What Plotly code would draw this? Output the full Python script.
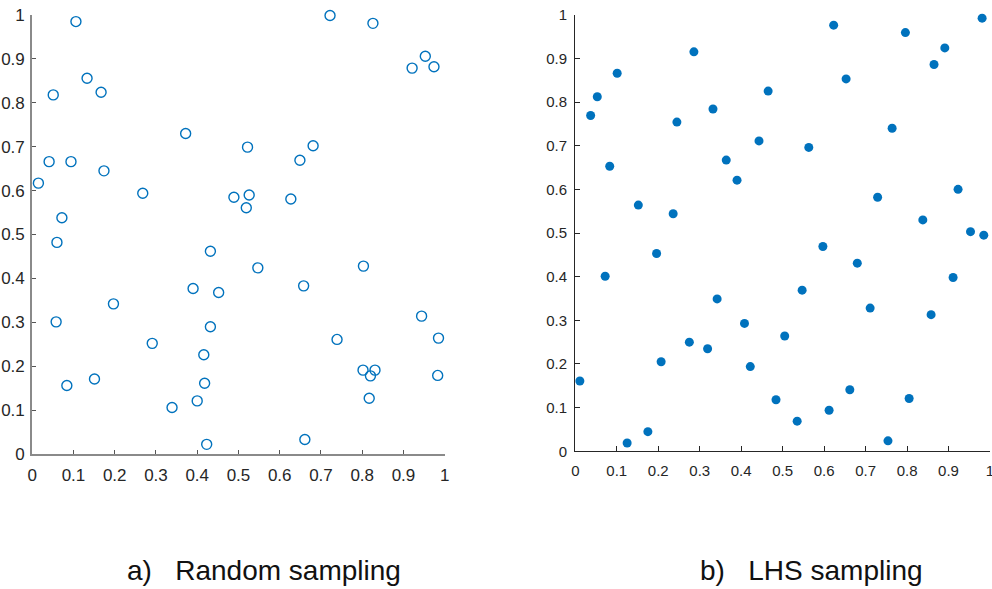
import plotly.graph_objects as go

# ---- data: a) Random sampling ----
rand_x = [0.106, 0.722, 0.826, 0.953, 0.921, 0.974, 0.133, 0.051, 0.167, 0.372,
          0.041, 0.094, 0.015, 0.174, 0.268, 0.072, 0.060, 0.522, 0.681, 0.649,
          0.489, 0.526, 0.519, 0.627, 0.432, 0.390, 0.452, 0.197, 0.058, 0.432,
          0.291, 0.416, 0.084, 0.151, 0.418, 0.400, 0.339, 0.423, 0.547, 0.803,
          0.658, 0.944, 0.985, 0.739, 0.802, 0.831, 0.820, 0.983, 0.817, 0.661]
rand_y = [0.985, 0.999, 0.981, 0.906, 0.879, 0.882, 0.856, 0.818, 0.824, 0.730,
          0.666, 0.666, 0.617, 0.645, 0.594, 0.538, 0.482, 0.699, 0.702, 0.669,
          0.585, 0.590, 0.561, 0.581, 0.462, 0.377, 0.368, 0.342, 0.301, 0.290,
          0.252, 0.226, 0.156, 0.171, 0.161, 0.121, 0.106, 0.022, 0.424, 0.428,
          0.383, 0.314, 0.264, 0.261, 0.191, 0.191, 0.178, 0.179, 0.127, 0.033]

# ---- data: b) LHS sampling ----
lhs_x = [0.037, 0.053, 0.101, 0.083, 0.152, 0.236, 0.245, 0.286, 0.332, 0.364,
         0.390, 0.443, 0.465, 0.623, 0.796, 0.981, 0.891, 0.865, 0.653, 0.764,
         0.563, 0.729, 0.923, 0.838, 0.953, 0.985, 0.597, 0.680, 0.547, 0.711,
         0.911, 0.858, 0.505, 0.484, 0.535, 0.612, 0.662, 0.805, 0.754, 0.011,
         0.072, 0.196, 0.342, 0.408, 0.275, 0.319, 0.207, 0.422, 0.175, 0.125]
lhs_y = [0.769, 0.812, 0.866, 0.653, 0.564, 0.544, 0.754, 0.915, 0.784, 0.667,
         0.621, 0.711, 0.825, 0.976, 0.959, 0.992, 0.924, 0.886, 0.853, 0.740,
         0.696, 0.582, 0.600, 0.530, 0.503, 0.495, 0.469, 0.431, 0.369, 0.328,
         0.398, 0.313, 0.264, 0.118, 0.069, 0.094, 0.141, 0.121, 0.024, 0.161,
         0.401, 0.453, 0.349, 0.293, 0.250, 0.235, 0.205, 0.194, 0.045, 0.019]

tick_vals = [0, 0.1, 0.2, 0.3, 0.4, 0.5, 0.6, 0.7, 0.8, 0.9, 1]
tick_text = ["0", "0.1", "0.2", "0.3", "0.4", "0.5", "0.6", "0.7", "0.8", "0.9", "1"]
captions = ["a)\u00a0\u00a0\u00a0Random sampling", "b)\u00a0\u00a0\u00a0LHS sampling"]

W, H = 992, 589
BLUE = "#0072BD"

fig = go.Figure()
fig.add_trace(go.Scatter(
    x=rand_x, y=rand_y, mode="markers", xaxis="x", yaxis="y",
    marker=dict(symbol="circle-open", size=10, color=BLUE, line=dict(width=1.4, color=BLUE)),
    cliponaxis=False, showlegend=False))
fig.add_trace(go.Scatter(
    x=lhs_x, y=lhs_y, mode="markers", xaxis="x2", yaxis="y2",
    marker=dict(symbol="circle", size=9, color=BLUE, line=dict(width=0)),
    cliponaxis=False, showlegend=False))

def px_x(p):
    return p / W

def px_y(p):
    return 1 - p / H

left_font = dict(family="Liberation Sans, Arial, sans-serif", size=17, color="#262626")
right_font = dict(family="Liberation Sans, Arial, sans-serif", size=15, color="#262626")

common = dict(range=[0, 1], tickmode="array", tickvals=tick_vals, ticktext=tick_text,
              showgrid=False, zeroline=False, ticks="inside", showline=True, mirror=False,
              automargin=False, ticklabeloverflow="allow")

fig.update_layout(
    width=W, height=H, margin=dict(l=0, r=0, t=0, b=0, autoexpand=False),
    paper_bgcolor="white", plot_bgcolor="white",
    xaxis=dict(**common, domain=[px_x(32.2), px_x(444.7)], anchor="y",
               linecolor="#8a8a8a", linewidth=2, tickcolor="#555555", ticklen=4, tickwidth=1,
               tickfont=left_font, ticklabelstandoff=5),
    yaxis=dict(**common, domain=[px_y(454), px_y(15)], anchor="x",
               linecolor="#8a8a8a", linewidth=2, tickcolor="#555555", ticklen=4, tickwidth=1,
               tickfont=left_font, ticklabelstandoff=2),
    xaxis2=dict(**common, domain=[px_x(575.3), px_x(990)], anchor="y2",
                linecolor="#262626", linewidth=1.3, tickcolor="#262626", ticklen=5, tickwidth=1,
                tickfont=right_font, ticklabelstandoff=6),
    yaxis2=dict(**common, domain=[px_y(451.3), px_y(14.7)], anchor="x2",
                linecolor="#262626", linewidth=1.3, tickcolor="#262626", ticklen=5, tickwidth=1,
                tickfont=right_font, ticklabelstandoff=4),
    annotations=[
        dict(text=captions[0], x=px_x(264), y=px_y(570), xref="paper", yref="paper",
             xanchor="center", yanchor="middle", showarrow=False,
             font=dict(family="Liberation Sans, Arial, sans-serif", size=28, color="#111111")),
        dict(text=captions[1], x=px_x(811), y=px_y(570), xref="paper", yref="paper",
             xanchor="center", yanchor="middle", showarrow=False,
             font=dict(family="Liberation Sans, Arial, sans-serif", size=28, color="#111111")),
    ],
)

fig.write_html("out.html", config={"displayModeBar": False},
               post_script="document.body.style.margin='0';document.body.style.overflow='hidden';")
